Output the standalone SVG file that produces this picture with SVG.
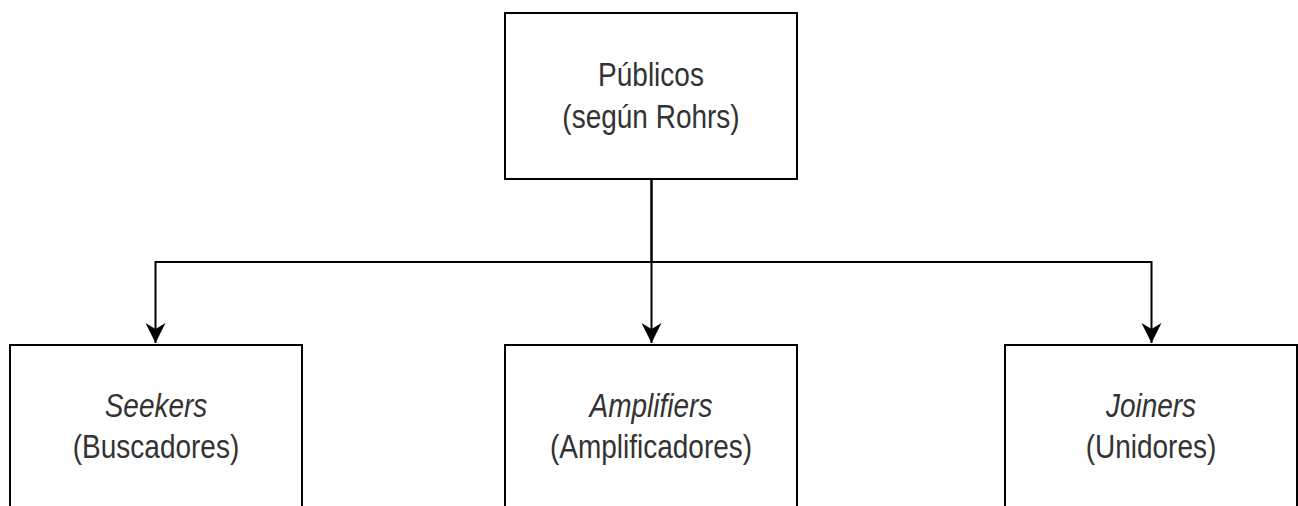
<svg xmlns="http://www.w3.org/2000/svg" width="1298" height="506" viewBox="0 0 1298 506">
<style>
.box{fill:#ffffff;stroke:#000000;stroke-width:2}
.lbl{font-family:"Liberation Sans",Arial,sans-serif;font-size:28px;fill:#333333;text-anchor:middle}
.it{font-style:italic}
.edge{fill:none;stroke:#000000;stroke-width:2}
</style>
<defs>
<marker id="arr" markerUnits="userSpaceOnUse" markerWidth="24" markerHeight="24" refX="20" refY="10" orient="auto">
<path d="M20,10 L0,0 L6,10 L0,20 Z" fill="#000000"/>
</marker>
</defs>
<rect width="1298" height="506" fill="#ffffff"/>
<g id="connectors">
<path class="edge" d="M651.5,179 V262 H155.5 V343" marker-end="url(#arr)"/>
<path class="edge" d="M651.5,179 V343" marker-end="url(#arr)"/>
<path class="edge" d="M651.5,262 H1151.5 V343" marker-end="url(#arr)"/>
</g>
<g id="node-publicos">
<rect class="box" x="505" y="13" width="292" height="166"/>
<text class="lbl" transform="translate(651,86) scale(1,1.2)">Públicos</text>
<text class="lbl" transform="translate(651,128) scale(1,1.2)">(según Rohrs)</text>
</g>
<g id="node-seekers">
<rect class="box" x="10" y="345" width="292" height="170"/>
<text class="lbl it" transform="translate(156,417) scale(1,1.2)">Seekers</text>
<text class="lbl" transform="translate(156,458) scale(1,1.2)">(Buscadores)</text>
</g>
<g id="node-amplifiers">
<rect class="box" x="505" y="345" width="292" height="170"/>
<text class="lbl it" transform="translate(651,417) scale(1,1.2)">Amplifiers</text>
<text class="lbl" transform="translate(651,458) scale(1,1.2)">(Amplificadores)</text>
</g>
<g id="node-joiners">
<rect class="box" x="1005" y="345" width="292" height="170"/>
<text class="lbl it" transform="translate(1151,417) scale(1,1.2)">Joiners</text>
<text class="lbl" transform="translate(1151,458) scale(1,1.2)">(Unidores)</text>
</g>
</svg>
